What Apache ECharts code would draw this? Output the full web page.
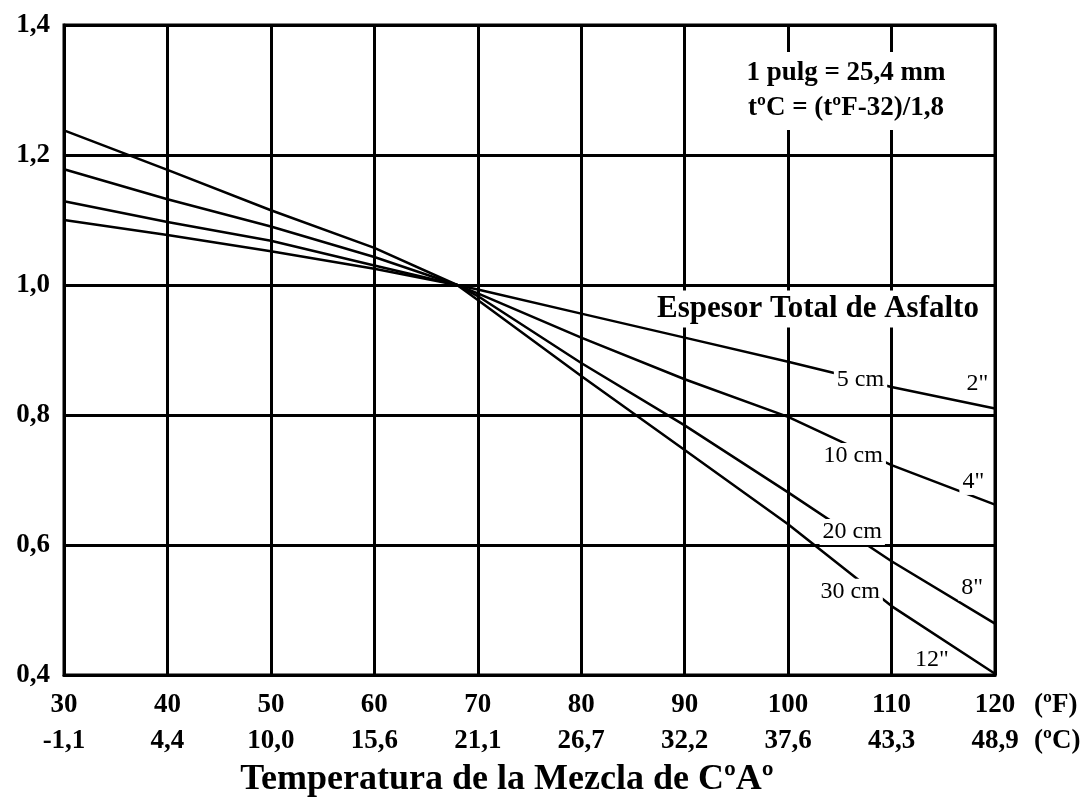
<!DOCTYPE html>
<html>
<head>
<meta charset="utf-8">
<title>Temperatura de la Mezcla</title>
<script src="https://cdn.jsdelivr.net/npm/echarts@6/dist/echarts.min.js"></script>
<style>
  html, body { margin: 0; padding: 0; background: #fff; }
  #chart { width: 1089px; height: 802px; }
</style>
</head>
<body>
<div id="chart"></div>
<script>
// eje x: temperatura en ºF y su equivalente en ºC
const tempF = [30, 40, 50, 60, 68, 70, 80, 90, 100, 110, 120];
const tickF = [30, 40, 50, 60, 70, 80, 90, 100, 110, 120];
const tickC = ['-1,1', '4,4', '10,0', '15,6', '21,1', '26,7', '32,2', '37,6', '43,3', '48,9'];

// factor de ajuste por espesor total de asfalto
const esp5cm  = [1.100, 1.077, 1.052, 1.025, 1.000, 0.993, 0.956, 0.919, 0.882, 0.843, 0.810];
const esp10cm = [1.129, 1.097, 1.068, 1.030, 1.000, 0.987, 0.919, 0.855, 0.797, 0.723, 0.662];
const esp20cm = [1.178, 1.132, 1.090, 1.043, 1.000, 0.983, 0.880, 0.784, 0.681, 0.575, 0.479];
const esp30cm = [1.238, 1.177, 1.115, 1.057, 1.000, 0.977, 0.860, 0.746, 0.632, 0.506, 0.402];

const SERIF = '"Liberation Serif", "Times New Roman", serif';

const chart = echarts.init(document.getElementById('chart'), null, { renderer: 'canvas' });

const pair = (ys) => tempF.map((x, i) => [x, ys[i]]);

// etiquetas sobre cada curva (cm a la izquierda, pulgadas a la derecha)
const tag = (text, coord) => ({
  coord,
  symbolSize: 0,
  label: {
    show: true,
    position: 'inside',
    formatter: text,
    fontFamily: SERIF,
    fontSize: 24,
    color: '#000',
    backgroundColor: '#fff',
    padding: [1, 3],
  },
});

const curve = (name, ys, tags) => ({
  name,
  type: 'line',
  data: pair(ys),
  smooth: false,
  symbol: 'none',
  lineStyle: { color: '#000', width: 2.5 },
  z: 3,
  markPoint: { symbol: 'circle', silent: true, data: tags, z: 5 },
});

const option = {
  backgroundColor: '#fff',
  animation: false,
  grid: {
    left: 64, right: 94, top: 25, bottom: 127,
    show: true, borderColor: '#000', borderWidth: 3,
  },
  xAxis: {
    type: 'value',
    min: 30, max: 120, interval: 10,
    axisLine: { show: true, lineStyle: { color: '#000', width: 3 } },
    axisTick: { show: false },
    splitLine: { show: true, lineStyle: { color: '#000', width: 3 } },
    axisLabel: {
      margin: 12,
      formatter: (v) => {
        const i = tickF.indexOf(v);
        return `{f|${v}}\n{c|${i >= 0 ? tickC[i] : ''}}`;
      },
      rich: {
        f: { fontFamily: SERIF, fontWeight: 'bold', fontSize: 27, color: '#000', lineHeight: 36 },
        c: { fontFamily: SERIF, fontWeight: 'bold', fontSize: 27, color: '#000', lineHeight: 36 },
      },
    },
  },
  yAxis: {
    type: 'value',
    min: 0.4, max: 1.4, interval: 0.2,
    axisLine: { show: true, lineStyle: { color: '#000', width: 3 } },
    axisTick: { show: false },
    splitLine: { show: true, lineStyle: { color: '#000', width: 3 } },
    axisLabel: {
      margin: 14,
      fontFamily: SERIF, fontWeight: 'bold', fontSize: 27, color: '#000',
      formatter: (v) => v.toFixed(1).replace('.', ','),
    },
  },
  series: [
    curve('5 cm', esp5cm, [tag('5 cm', [107.0, 0.854]), tag('2"', [118.3, 0.848])]),
    curve('10 cm', esp10cm, [tag('10 cm', [106.3, 0.737]), tag('4"', [117.9, 0.697])]),
    curve('20 cm', esp20cm, [tag('20 cm', [106.2, 0.620]), tag('8"', [117.8, 0.534])]),
    curve('30 cm', esp30cm, [tag('30 cm', [106.0, 0.528]), tag('12"', [113.9, 0.423])]),
  ],
  graphic: [
    {
      type: 'text', z: 100,
      x: 846, y: 91,
      style: {
        text: '1 pulg = 25,4 mm\ntºC = (tºF-32)/1,8',
        font: `bold 27px ${SERIF}`,
        fill: '#000',
        align: 'center', verticalAlign: 'middle',
        lineHeight: 35,
        backgroundColor: '#fff',
        padding: [4, 6],
      },
    },
    {
      type: 'text', z: 100,
      x: 818, y: 309,
      style: {
        text: 'Espesor Total de Asfalto',
        font: `bold 31px ${SERIF}`,
        fill: '#000',
        align: 'center', verticalAlign: 'middle',
        backgroundColor: '#fff',
        padding: [0, 3, 6, 3],
      },
    },
    {
      type: 'text', x: 1034, y: 705,
      style: { text: '(ºF)', font: `bold 27px ${SERIF}`, fill: '#000', align: 'left', verticalAlign: 'middle' },
    },
    {
      type: 'text', x: 1034, y: 741,
      style: { text: '(ºC)', font: `bold 27px ${SERIF}`, fill: '#000', align: 'left', verticalAlign: 'middle' },
    },
    {
      type: 'text', x: 507, y: 780,
      style: {
        text: 'Temperatura de la Mezcla de CºAº',
        font: `bold 36px ${SERIF}`,
        fill: '#000',
        align: 'center', verticalAlign: 'middle',
      },
    },
  ],
};

chart.setOption(option);
</script>
</body>
</html>
